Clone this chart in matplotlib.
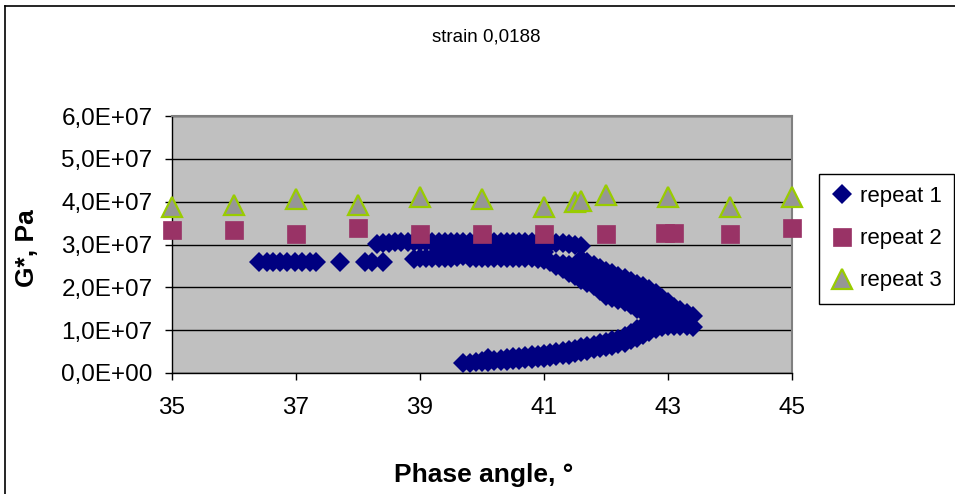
import numpy as np
import matplotlib
matplotlib.use('Agg')
import matplotlib.pyplot as plt
from matplotlib.lines import Line2D

plt.rcParams['font.family'] = ['Liberation Sans', 'DejaVu Sans']

# ---- data (G* in units of 1e7 Pa, phase angle in degrees) ----
# repeat 1
r1_left_x = [36.40, 36.53, 36.63, 36.74, 36.86, 36.98, 37.09, 37.23, 37.33, 37.71, 38.11, 38.22, 38.41]
r1_left_y = [2.60, 2.60, 2.60, 2.60, 2.60, 2.60, 2.60, 2.60, 2.60, 2.60, 2.60, 2.60, 2.60]

# top row ~3.0e7
r1_top_x = [38.3, 38.4, 38.5, 38.6, 38.7, 38.8, 38.9, 39.0, 39.1, 39.2, 39.3, 39.4, 39.5, 39.6, 39.7,
            39.8, 39.9, 40.0, 40.1, 40.2, 40.3, 40.4, 40.5, 40.6, 40.7, 40.8, 40.9, 41.0, 41.1, 41.2,
            41.3, 41.4, 41.5, 41.6]
r1_top_y = [3.02, 3.04, 3.04, 3.05, 3.06, 3.06, 3.06, 3.06, 3.06, 3.06, 3.06, 3.06, 3.07, 3.06, 3.06,
            3.06, 3.06, 3.07, 3.06, 3.06, 3.06, 3.06, 3.06, 3.07, 3.06, 3.06, 3.06, 3.05, 3.04, 3.04,
            3.03, 3.02, 3.00, 2.97]

# middle row
r1_mid_x = [39.3, 39.4, 39.5, 39.6, 39.7, 39.8, 39.9, 40.0, 40.1, 40.2, 40.3, 40.4, 40.5, 40.6, 40.7,
            40.8, 40.9, 41.0]
r1_mid_y = [2.87, 2.87, 2.87, 2.86, 2.87, 2.87, 2.86, 2.87, 2.87, 2.86, 2.87, 2.86, 2.86, 2.86, 2.85,
            2.85, 2.84, 2.83]

# lower row ~2.7e7
r1_low_x = [38.9, 39.0, 39.1, 39.2, 39.3, 39.4, 39.5, 39.6, 39.7, 39.8, 39.9, 40.0, 40.1, 40.2, 40.3,
            40.4, 40.5, 40.6, 40.7, 40.8, 40.9, 41.0]
r1_low_y = [2.67, 2.68, 2.68, 2.69, 2.69, 2.69, 2.69, 2.70, 2.74, 2.69, 2.69, 2.69, 2.69, 2.69, 2.69,
            2.69, 2.69, 2.68, 2.68, 2.68, 2.67, 2.64]

# upper branch going down to the right: outer, middle and inner strands
r1_ut_x = [41.6, 41.7, 41.8, 41.9, 42.0, 42.1, 42.2, 42.3, 42.4, 42.5, 42.6, 42.7, 42.8, 42.9, 43.0,
           43.1, 43.2, 43.3, 43.4]
r1_ut_y = [2.66, 2.60, 2.53, 2.45, 2.38, 2.33, 2.27, 2.22, 2.15, 2.08, 2.02, 1.96, 1.87, 1.76, 1.65,
           1.55, 1.47, 1.40, 1.32]

r1_um_x = [41.2, 41.3, 41.4, 41.5, 41.6, 41.7, 41.8, 41.9, 42.0, 42.1, 42.2, 42.3, 42.4, 42.5, 42.6,
           42.7, 42.8, 42.9, 43.0, 43.1, 43.2, 43.3]
r1_um_y = [2.57, 2.55, 2.52, 2.48, 2.42, 2.35, 2.28, 2.20, 2.12, 2.04, 1.96, 1.89, 1.81, 1.73, 1.66,
           1.59, 1.51, 1.44, 1.38, 1.33, 1.29, 1.26]

r1_ub_x = [41.1, 41.2, 41.3, 41.4, 41.5, 41.6, 41.7, 41.8, 41.9, 42.0, 42.1, 42.2, 42.3, 42.4, 42.5,
           42.6, 42.7]
r1_ub_y = [2.58, 2.50, 2.42, 2.34, 2.26, 2.18, 2.10, 2.02, 1.92, 1.80, 1.75, 1.71, 1.66, 1.58, 1.50,
           1.42, 1.35]

# lower branch: bottom and top strands
r1_b1_x = [39.7, 39.8, 39.9, 40.0, 40.1, 40.2, 40.3, 40.4, 40.5, 40.6, 40.7, 40.8, 40.9, 41.0, 41.1,
           41.2, 41.3, 41.4, 41.5, 41.6, 41.7, 41.8, 41.9, 42.0, 42.1, 42.2, 42.3, 42.4, 42.5, 42.6,
           42.7, 42.8, 42.9, 43.0, 43.1, 43.2, 43.3, 43.4]
r1_b1_y = [0.24, 0.24, 0.25, 0.25, 0.26, 0.27, 0.28, 0.29, 0.30, 0.31, 0.32, 0.33, 0.34, 0.35, 0.37,
           0.39, 0.41, 0.43, 0.46, 0.49, 0.52, 0.55, 0.58, 0.61, 0.64, 0.67, 0.71, 0.76, 0.82, 0.89,
           0.96, 1.03, 1.08, 1.10, 1.10, 1.10, 1.09, 1.08]

r1_b2_x = [40.0, 40.1, 40.2, 40.3, 40.4, 40.5, 40.6, 40.7, 40.8, 40.9, 41.0, 41.1, 41.2, 41.3, 41.4,
           41.5, 41.6, 41.7, 41.8, 41.9, 42.0, 42.1, 42.2, 42.3, 42.4, 42.5, 42.6, 42.7, 42.8, 42.9,
           43.0, 43.1, 43.2, 43.3]
r1_b2_y = [0.28, 0.36, 0.31, 0.33, 0.35, 0.37, 0.38, 0.40, 0.41, 0.43, 0.45, 0.47, 0.49, 0.52, 0.54,
           0.57, 0.60, 0.63, 0.66, 0.69, 0.72, 0.76, 0.80, 0.86, 0.93, 1.02, 1.10, 1.16, 1.20, 1.22,
           1.23, 1.24, 1.24, 1.22]

r2_x = [35, 36, 37, 38, 39, 40, 41, 42, 42.95, 43.1, 44, 45]
r2_y = [3.33, 3.33, 3.24, 3.38, 3.24, 3.24, 3.24, 3.24, 3.28, 3.26, 3.24, 3.38]

r3_x = [35, 36, 37, 38, 39, 40, 41, 41.5, 41.6, 42, 43, 44, 45]
r3_y = [3.87, 3.93, 4.06, 3.93, 4.10, 4.06, 3.87, 4.00, 4.01, 4.15, 4.10, 3.87, 4.10]

x_ticks = [35, 37, 39, 41, 43, 45]
y_ticks = [0, 1e7, 2e7, 3e7, 4e7, 5e7, 6e7]
y_tick_labels = ['0,0E+00', '1,0E+07', '2,0E+07', '3,0E+07', '4,0E+07', '5,0E+07', '6,0E+07']

r1_x = np.concatenate([r1_left_x, r1_top_x, r1_mid_x, r1_low_x, r1_ut_x, r1_um_x, r1_ub_x, r1_b1_x, r1_b2_x])
r1_y = np.concatenate([r1_left_y, r1_top_y, r1_mid_y, r1_low_y, r1_ut_y, r1_um_y, r1_ub_y, r1_b1_y, r1_b2_y]) * 1e7

# ---- figure ----
fig = plt.figure(figsize=(9.55, 4.94), dpi=100)
ax = fig.add_axes([172/955, 1 - 373/494, 620/955, 257/494])
ax.set_facecolor('#C0C0C0')

ax.plot(r1_x, r1_y, linestyle='none', marker='D', ms=10, mew=0, color='#000080',
        label='repeat 1', clip_on=False, zorder=3)
ax.plot(r2_x, np.array(r2_y) * 1e7, linestyle='none', marker='s', ms=13, mew=0.5,
        color='#993366', label='repeat 2', clip_on=False, zorder=4)
ax.plot(r3_x, np.array(r3_y) * 1e7, linestyle='none', marker='^', ms=15, mew=1.6,
        markerfacecolor='#969696', markeredgecolor='#99CC00', label='repeat 3', clip_on=False, zorder=5)

ax.set_xlim(35, 45)
ax.set_ylim(0, 6e7)
ax.set_xticks(x_ticks)
ax.set_yticks(y_ticks)
ax.set_yticklabels(y_tick_labels)
ax.tick_params(axis='both', direction='out', length=5, width=1, color='black', labelsize=17.5)
ax.tick_params(axis='y', pad=9)
ax.tick_params(axis='x', pad=12)
ax.yaxis.grid(True, color='black', linewidth=1)
ax.set_axisbelow(True)
for s in ['top', 'right']:
    ax.spines[s].set_color('#808080')
    ax.spines[s].set_linewidth(1.5)
for s in ['left', 'bottom']:
    ax.spines[s].set_color('black')
    ax.spines[s].set_linewidth(1)

fig.text(486/955, 1 - 37/494, 'strain 0,0188', ha='center', va='center', fontsize=13.5)
fig.text(484/955, 1 - 475/494, 'Phase angle, °', ha='center', va='center', fontsize=19, fontweight='bold')
fig.text(27/955, 1 - 248/494, 'G*, Pa', ha='center', va='center', rotation=90, fontsize=19, fontweight='bold')

leg = fig.legend(loc='upper left', bbox_to_anchor=(819/955, 1 - 174/494), fontsize=16,
                 frameon=True, fancybox=False, edgecolor='black', framealpha=1,
                 handlelength=1.0, handletextpad=0.3, borderpad=0.55, labelspacing=0.95,
                 borderaxespad=0)
leg.get_frame().set_linewidth(1)

# outer chart frame
fig.add_artist(Line2D([5/955, 5/955], [0, 1 - 6/494], color='black', lw=1.2))
fig.add_artist(Line2D([5/955, 1], [1 - 6/494, 1 - 6/494], color='black', lw=1.2))

fig.savefig('out.png', dpi=100)
